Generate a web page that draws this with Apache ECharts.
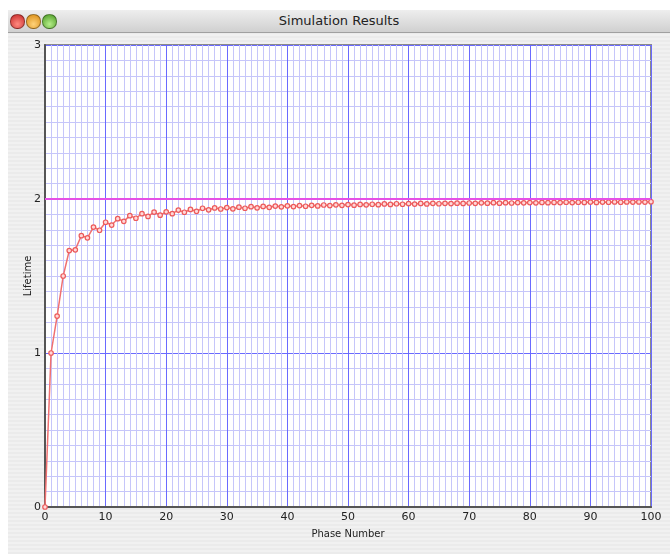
<!DOCTYPE html>
<html>
<head>
<meta charset="utf-8">
<script src="https://cdn.jsdelivr.net/npm/echarts@6/dist/echarts.min.js"></script>
<style>
  html, body { margin: 0; padding: 0; background: #fff; }
  .win {
    position: absolute; left: 8px; top: 10px; width: 662px; height: 544px;
    background: repeating-linear-gradient(to bottom, #f1f1f1 0px, #f1f1f1 2px, #ebebeb 2px, #ebebeb 4px);
  }
  .bar {
    position: absolute; left: 0; top: 0; width: 662px; height: 22px;
    background: linear-gradient(to bottom, #eeeeee, #d0d0d0);
    border-bottom: 1px solid #a0a0a0;
    font-family: "DejaVu Sans", sans-serif; font-size: 13px; color: #222;
    text-align: center; line-height: 22px;
  }
  .dot { position: absolute; top: 4px; width: 13px; height: 13px; border-radius: 7px; border: 1px solid rgba(0,0,0,0.35); }
  #chart { position: absolute; left: 0; top: 0; width: 670px; height: 554px; }
</style>
</head>
<body>
<div class="win">
  <div class="bar">
    <span class="dot" style="left:2px;background:radial-gradient(circle at 50% 70%, #ff8a80, #c62828);"></span>
    <span class="dot" style="left:18px;background:radial-gradient(circle at 50% 70%, #ffd27a, #d88a10);"></span>
    <span class="dot" style="left:34px;background:radial-gradient(circle at 50% 70%, #b6ee8a, #4a9a22);"></span>
    Simulation Results
  </div>
</div>
<div id="chart"></div>
<script>
// lifetime per phase, phases 0..100
const phases = [];
for (let i = 0; i <= 100; i++) phases.push(i);
const lifetime = [
  0, 1.0, 1.24, 1.50, 1.665, 1.67, 1.762, 1.748, 1.818, 1.797,
  1.849, 1.831, 1.872, 1.855, 1.892, 1.875, 1.905, 1.887, 1.915, 1.895,
  1.917, 1.905, 1.928, 1.914, 1.932, 1.92, 1.94, 1.93, 1.942, 1.935,
  1.944, 1.936, 1.947, 1.940, 1.950, 1.943, 1.952, 1.946, 1.954, 1.949,
  1.956, 1.951, 1.957, 1.953, 1.959, 1.955, 1.961, 1.957, 1.962, 1.959,
  1.964, 1.960, 1.965, 1.962, 1.966, 1.963, 1.968, 1.965, 1.969, 1.966,
  1.970, 1.967, 1.971, 1.968, 1.972, 1.969, 1.972, 1.970, 1.973, 1.971,
  1.974, 1.972, 1.975, 1.973, 1.976, 1.973, 1.976, 1.974, 1.977, 1.975,
  1.977, 1.975, 1.978, 1.976, 1.978, 1.977, 1.979, 1.977, 1.979, 1.978,
  1.980, 1.978, 1.980, 1.979, 1.981, 1.979, 1.981, 1.980, 1.981, 1.980,
  1.982
];
const target = 2;

const majorColor = '#6a6aff';
const minorColor = '#c6c6fa';

const chart = echarts.init(document.getElementById('chart'));
const labelFont = { fontFamily: 'DejaVu Sans', fontSize: 11, color: '#222' };
chart.setOption({
  animation: false,
  grid: {
    left: 45, top: 45, right: 19, bottom: 47,
    show: true, backgroundColor: '#fff', borderColor: '#8a8a8a', borderWidth: 2
  },
  xAxis: {
    type: 'value', min: 0, max: 100, interval: 10,
    name: 'Phase Number', nameLocation: 'middle', nameGap: 22,
    nameTextStyle: { fontFamily: 'DejaVu Sans', fontSize: 10, color: '#222' },
    axisLine: { onZero: false, lineStyle: { color: '#555', width: 2 } },
    axisTick: { show: false },
    axisLabel: Object.assign({ margin: 5 }, labelFont),
    splitLine: { show: true, lineStyle: { color: [majorColor], width: 1 } },
    minorTick: { show: false, splitNumber: 10 },
    minorSplitLine: { show: true, lineStyle: { color: minorColor, width: 1 } }
  },
  yAxis: {
    type: 'value', min: 0, max: 3, interval: 1,
    name: 'Lifetime', nameLocation: 'middle', nameGap: 12, nameMoveOverlap: false,
    nameTextStyle: { fontFamily: 'DejaVu Sans', fontSize: 10, color: '#222' },
    axisLine: { show: true, lineStyle: { color: '#555', width: 2 } },
    axisTick: { show: false },
    axisLabel: Object.assign({ margin: 4 }, labelFont),
    splitLine: { show: true, lineStyle: { color: [majorColor], width: 1 } },
    minorTick: { show: false, splitNumber: 10 },
    minorSplitLine: { show: true, lineStyle: { color: minorColor, width: 1 } }
  },
  series: [
    {
      type: 'line',
      data: phases.map((p, i) => [p, lifetime[i]]),
      symbol: 'circle', symbolSize: 4.5, showAllSymbol: true,
      lineStyle: { color: '#f07070', width: 1.5 },
      itemStyle: { color: '#ffd8d8', borderColor: '#ec5a5a', borderWidth: 1.2 },
      markLine: {
        silent: true, symbol: 'none', label: { show: false },
        lineStyle: { color: '#e650e6', width: 2, type: 'solid' },
        data: [{ yAxis: target }]
      }
    }
  ]
});
</script>
</body>
</html>
